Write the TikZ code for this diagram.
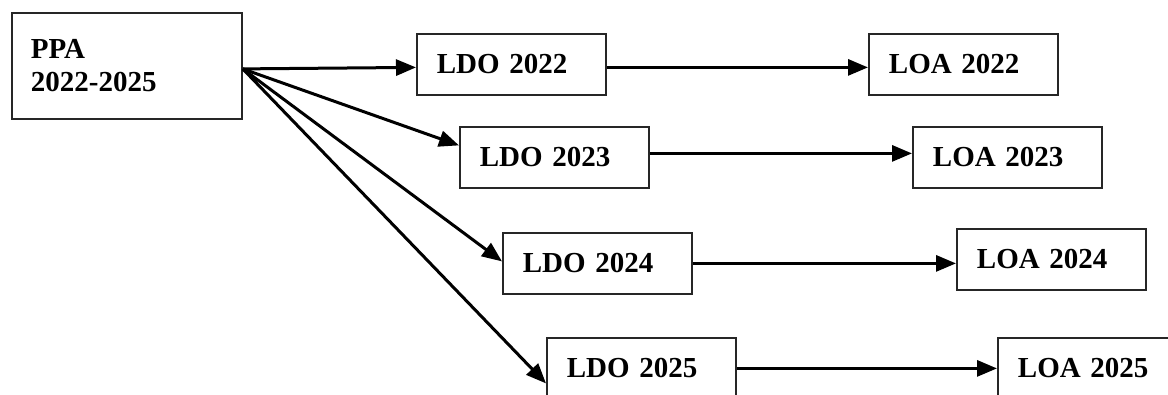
\documentclass[tikz,border=0pt]{standalone}
\usepackage{fontspec}
\setmainfont{Liberation Serif}
\usetikzlibrary{arrows.meta}
\begin{document}
\begin{tikzpicture}[x=1pt,y=-1pt,
  box/.style={draw=black!85, line width=1.8pt, rectangle, anchor=north west,
    inner xsep=20pt, inner ysep=0pt, text width=149pt, minimum height=61pt,
    align=left, font=\fontsize{29}{33}\selectfont\bfseries},
  conn/.style={line width=3pt, -{Triangle[length=20pt,width=16pt]}}]
\clip (0,0) rectangle (1168,394);
\fill[white] (0,0) rectangle (1168,394);
\node[box, text width=192pt, inner xsep=19pt, minimum height=106pt] (ppa) at (11,12) {PPA\\2022-2025};
\node[box] (l22) at (416,33) {LDO 2022};
\node[box] (l23) at (459,126) {LDO 2023};
\node[box] (l24) at (502,232) {LDO 2024};
\node[box] (l25) at (546,337) {LDO 2025};
\node[box] (o22) at (868,33) {LOA 2022};
\node[box] (o23) at (912,126) {LOA 2023};
\node[box] (o24) at (956,228) {LOA 2024};
\node[box] (o25) at (997,337) {LOA 2025};
\coordinate (src) at ([yshift=-3pt]ppa.east);
\coordinate (a22) at ([yshift=-3pt]l22.east);
\coordinate (a23) at ([yshift=4pt]l23.east);
\draw[conn] (src) -- ([yshift=-3pt]l22.west);
\draw[conn] (src) -- ([yshift=12pt]l23.west);
\draw[conn] (src) -- ([yshift=2pt]l24.west);
\draw[conn] (src) -- ([yshift=-15pt]l25.west);
\draw[conn] (a22) -- (a22 -| o22.west);
\draw[conn] (a23) -- (a23 -| o23.west);
\draw[conn] (l24.east) -- (l24.east -| o24.west);
\draw[conn] (l25.east) -- (l25.east -| o25.west);
\end{tikzpicture}
\end{document}
